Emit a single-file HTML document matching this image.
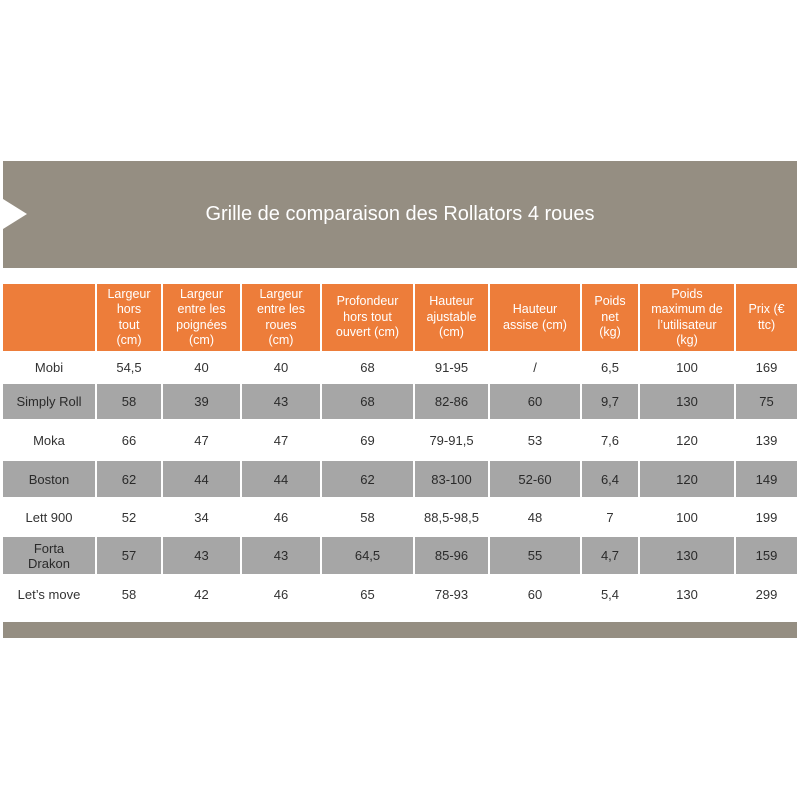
<!DOCTYPE html><html><head><style>
body{margin:0;width:800px;height:800px;background:#fff;position:relative;font-family:"Liberation Sans",sans-serif;overflow:hidden}
.b{position:absolute;left:3px;width:794px;background:#958e82}
.c{position:absolute;display:flex;align-items:center;justify-content:center;text-align:center;box-sizing:border-box;font-size:13px;color:#333;line-height:15px}
.h{background:#ed7d3a;color:#fff;font-size:12.5px;line-height:15.5px}
.g{background:#a6a6a6;color:#2a2a2a}
</style></head><body>
<div class="b" style="top:161px;height:107px"></div>
<div style="position:absolute;left:3px;top:199px;width:0;height:0;border-top:15px solid transparent;border-bottom:15px solid transparent;border-left:24px solid #fff"></div>
<div style="position:absolute;left:0;width:800px;top:203px;text-align:center;color:#fff;font-size:20px">Grille de comparaison des Rollators 4 roues</div>
<div class="b" style="top:622px;height:16px"></div>
<div id="t"></div>
<script>
var xs=[3,96,162,241,321,414,489,581,639,735,797];
var ys=[284,352,383,420,460,498,536,575,613];
var H=["","Largeur<br>hors<br>tout<br>(cm)","Largeur<br>entre les<br>poignées<br>(cm)","Largeur<br>entre les<br>roues<br>(cm)","Profondeur<br>hors tout<br>ouvert (cm)","Hauteur<br>ajustable<br>(cm)","Hauteur<br>assise (cm)","Poids<br>net<br>(kg)","Poids<br>maximum de<br>l’utilisateur<br>(kg)","Prix (€<br>ttc)"];
var R=[["Mobi","54,5","40","40","68","91-95","/","6,5","100","169"],
["Simply Roll","58","39","43","68","82-86","60","9,7","130","75"],
["Moka","66","47","47","69","79-91,5","53","7,6","120","139"],
["Boston","62","44","44","62","83-100","52-60","6,4","120","149"],
["Lett 900","52","34","46","58","88,5-98,5","48","7","100","199"],
["Forta<br>Drakon","57","43","43","64,5","85-96","55","4,7","130","159"],
["Let’s move","58","42","46","65","78-93","60","5,4","130","299"]];
var s="";
function cell(r,c,txt,cls){var x=xs[c]+(c?1:0),w=xs[c+1]-xs[c]-(c?1:0)-(c<9?1:0),y=ys[r]+(r?1:0),h=ys[r+1]-ys[r]-(r?1:0)-1;
s+='<div class="c '+cls+'" style="left:'+x+'px;top:'+y+'px;width:'+w+'px;height:'+h+'px">'+txt+'</div>';}
for(var c=0;c<10;c++)cell(0,c,H[c],"h");
for(var r=0;r<7;r++)for(var c=0;c<10;c++)cell(r+1,c,R[r][c],r%2?"g":"");
document.getElementById("t").innerHTML=s;
</script>
</body></html>
